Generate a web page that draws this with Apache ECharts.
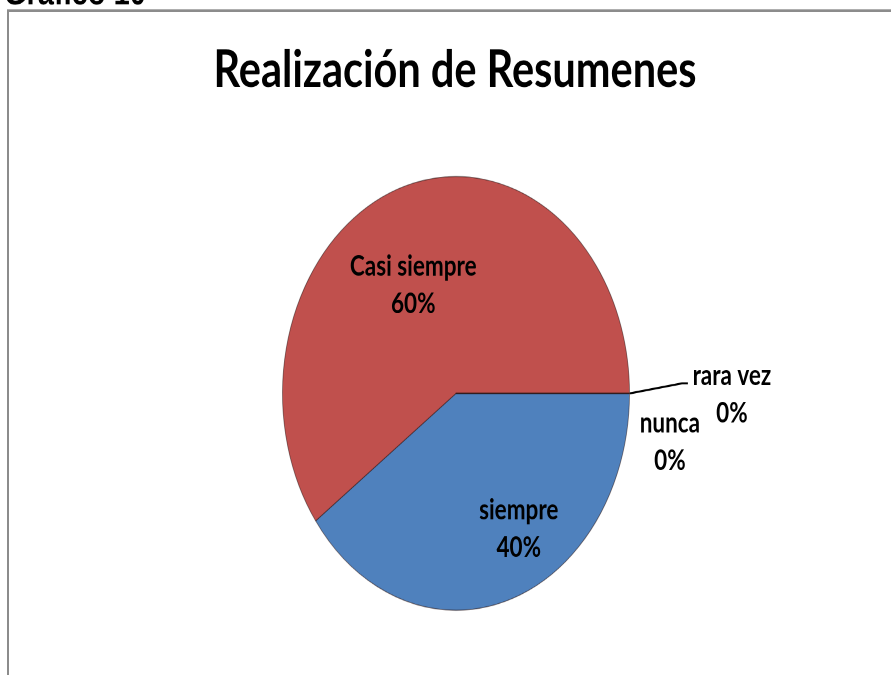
<!DOCTYPE html>
<html>
<head>
<meta charset="utf-8">
<script src="https://cdn.jsdelivr.net/npm/echarts@6/dist/echarts.min.js"></script>
<style>
  html, body { margin: 0; padding: 0; background: #fff; overflow: hidden; }
  #wrap { width: 891px; height: 675px; overflow: hidden; position: relative; }
  #chart { width: 891px; height: 540px; transform: scaleY(1.25); transform-origin: 0 0; }
</style>
</head>
<body>
<div id="wrap"><div id="chart"></div></div>
<script>
const chartTitle = 'Realización de Resumenes';
const figureCaption = 'Gráfico 10';
const categories = ['siempre', 'Casi siempre', 'nunca', 'rara vez'];
const values = [40, 60, 0, 0];
const colors = ['#4F81BD', '#C0504D', '#9BBB59', '#8064A2'];

const chart = echarts.init(document.getElementById('chart'), null, { devicePixelRatio: 2, renderer: 'canvas' });

const labelFont = { fontFamily: 'Lato', fontWeight: 'bold', fontSize: 22.5, lineHeight: 30, color: '#000' };

const option = {
  animation: false,
  backgroundColor: '#fff',
  graphic: [
    { type: 'rect', silent: true, shape: { x: 8, y: 8.5, width: 1000, height: 1000 },
      style: { fill: 'none', stroke: '#8c8c8c', lineWidth: 2 } },
    { type: 'text', silent: true, x: 455, y: 56,
      style: { text: chartTitle, font: 'bold 41.5px Lato', fill: '#000', textAlign: 'center', textVerticalAlign: 'middle' } },
    { type: 'text', silent: true, x: 4, y: -4.5,
      style: { text: figureCaption, font: 'bold 29px "Liberation Sans"', fill: '#000', textAlign: 'left', textVerticalAlign: 'middle' } }
  ],
  series: [{
    type: 'pie',
    center: [456, 314.7],
    radius: 173.5,
    startAngle: 0,
    clockwise: true,
    avoidLabelOverlap: false,
    itemStyle: { borderWidth: 0.8, borderColor: 'rgba(40,20,20,0.55)' },
    label: Object.assign({ show: true, formatter: '{b}\n{d}%' }, labelFont),
    labelLine: { show: false, lineStyle: { color: '#000', width: 1.6 } },
    data: categories.map((name, i) => {
      const item = { name: name, value: values[i], itemStyle: { color: colors[i] } };
      if (values[i] > 0) {
        item.label = { position: 'inside' };
      } else {
        item.label = { position: 'outside', align: 'center' };
        if (name === 'rara vez') item.labelLine = { show: true };
      }
      return item;
    }),
    labelLayout: function (p) {
      const i = p.dataIndex;
      if (i === 0) return { dx: 35, dy: 23 };
      if (i === 1) return { dx: -15, dy: -1 };
      const ex = p.rect.x + p.rect.width;
      const ey = p.rect.y + p.rect.height / 2;
      if (i === 2) return { x: ex + 40, y: ey + 39, align: 'center', verticalAlign: 'middle' };
      return { x: ex + 102, y: ey + 1, align: 'center', verticalAlign: 'middle',
               labelLinePoints: [[ex, ey], [ex + 52, ey - 8], [ex + 58, ey - 8]] };
    }
  }]
};
chart.setOption(option);
</script>
</body>
</html>
